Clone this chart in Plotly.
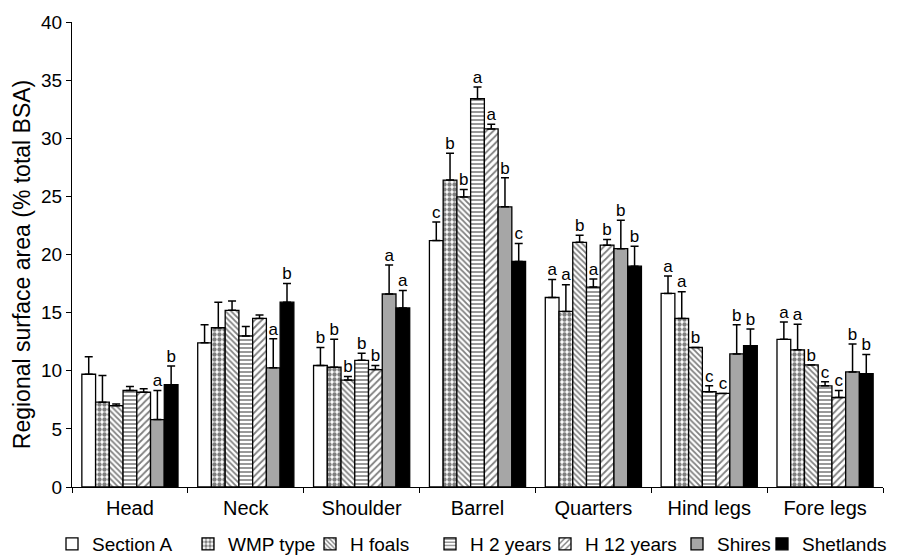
import plotly.graph_objects as go

categories = ["Head", "Neck", "Shoulder", "Barrel", "Quarters", "Hind legs", "Fore legs"]
series_names = ["Section A", "WMP type", "H foals", "H 2 years", "H 12 years", "Shires", "Shetlands"]
y_title = "Regional surface area (% total BSA)"

section_a = [9.7, 12.4, 10.45, 21.2, 16.3, 16.65, 12.7]
section_a_err = [1.5, 1.55, 1.55, 1.6, 1.55, 1.5, 1.5]
section_a_lbl = ["", "", "b", "c", "a", "a", "a"]

wmp_type = [7.3, 13.7, 10.3, 26.4, 15.1, 14.5, 11.8]
wmp_type_err = [2.3, 2.2, 2.4, 2.3, 2.3, 2.3, 2.2]
wmp_type_lbl = ["", "", "b", "b", "a", "a", "a"]

h_foals = [7.0, 15.2, 9.2, 24.95, 21.05, 12.0, 10.5]
h_foals_err = [0.15, 0.8, 0.3, 0.65, 0.6, 0.0, 0.0]
h_foals_lbl = ["", "", "b", "b", "b", "b", "b"]

h_2_years = [8.3, 13.0, 10.9, 33.4, 17.2, 8.2, 8.7]
h_2_years_err = [0.35, 0.8, 0.6, 1.0, 0.7, 0.5, 0.35]
h_2_years_lbl = ["", "", "b", "a", "a", "c", "c"]

h_12_years = [8.15, 14.5, 10.1, 30.8, 20.8, 8.05, 7.7]
h_12_years_err = [0.3, 0.3, 0.35, 0.4, 0.5, 0.0, 0.6]
h_12_years_lbl = ["", "", "b", "a", "b", "c", "c"]

shires = [5.8, 10.25, 16.6, 24.1, 20.5, 11.45, 9.9]
shires_err = [2.5, 2.5, 2.5, 2.5, 2.45, 2.5, 2.4]
shires_lbl = ["a", "a", "a", "b", "b", "b", "b"]

shetlands = [8.8, 15.9, 15.4, 19.4, 19.0, 12.15, 9.75]
shetlands_err = [1.6, 1.6, 1.5, 1.55, 1.7, 1.45, 1.65]
shetlands_lbl = ["b", "b", "a", "c", "b", "b", "b"]

values = [section_a, wmp_type, h_foals, h_2_years, h_12_years, shires, shetlands]
errors = [section_a_err, wmp_type_err, h_foals_err, h_2_years_err, h_12_years_err, shires_err, shetlands_err]
labels = [section_a_lbl, wmp_type_lbl, h_foals_lbl, h_2_years_lbl, h_12_years_lbl, shires_lbl, shetlands_lbl]

styles = [
    dict(color="white", pattern=dict(shape="")),
    dict(color="white", pattern=dict(shape=".", fgcolor="black", bgcolor="white", size=5, solidity=0.6)),
    dict(color="white", pattern=dict(shape="\\", fgcolor="black", bgcolor="white", size=4, solidity=0.45)),
    dict(color="white", pattern=dict(shape="-", fgcolor="black", bgcolor="white", size=4, solidity=0.4)),
    dict(color="white", pattern=dict(shape="/", fgcolor="black", bgcolor="white", size=5, solidity=0.35)),
    dict(color="#a6a6a6", pattern=dict(shape="")),
    dict(color="black", pattern=dict(shape="")),
]

# left edge (px, figure coords) of each legend entry box
legend_left_px = [44, 180, 302, 422, 537, 669, 754]

FONT = "Liberation Sans, Arial, Helvetica, sans-serif"
FIG_W, FIG_H = 889, 547
M_L, M_R, M_T, M_B = 64, 14, 14, 68

fig = go.Figure()
for i, name in enumerate(series_names):
    st = styles[i]
    fig.add_trace(go.Bar(
        name=name, x=categories, y=values[i],
        offsetgroup=str(i), alignmentgroup="g",
        legend="legend" if i == 0 else f"legend{i + 1}",
        marker=dict(color=st["color"], pattern=st["pattern"],
                    line=dict(color="black", width=1.3)),
        error_y=dict(type="data", array=errors[i], arrayminus=[0] * len(errors[i]),
                     symmetric=False, color="black", thickness=1.5, width=4),
    ))

for i, name in enumerate(series_names):
    tops = [v + e for v, e in zip(values[i], errors[i])]
    fig.add_trace(go.Scatter(
        x=categories, y=tops, mode="text", text=labels[i],
        textposition="top center", textfont=dict(size=17, color="black", family=FONT),
        offsetgroup=str(i), alignmentgroup="g",
        showlegend=False, hoverinfo="skip", cliponaxis=False,
    ))

legend_layouts = {}
for i, px in enumerate(legend_left_px):
    key = "legend" if i == 0 else f"legend{i + 1}"
    legend_layouts[key] = dict(orientation="h", xref="container", x=px / FIG_W, xanchor="left",
                               y=-0.1226, yanchor="middle", font=dict(size=19),
                               itemwidth=30, bgcolor="rgba(0,0,0,0)")

plot_w = FIG_W - M_L - M_R
fig.add_annotation(
    text=y_title, textangle=-90, xref="paper", yref="paper",
    x=(14 - M_L) / plot_w, y=0.477, xanchor="center", yanchor="middle",
    showarrow=False, font=dict(size=23, family=FONT, color="black"),
)

fig.update_layout(
    width=FIG_W, height=FIG_H,
    barmode="group", bargap=0.17, bargroupgap=0.0,
    scattermode="group", scattergap=0.17,
    plot_bgcolor="white", paper_bgcolor="white",
    font=dict(family=FONT, size=19, color="black"),
    margin=dict(l=M_L, r=M_R, t=M_T, b=M_B, autoexpand=False),
    showlegend=True,
    xaxis=dict(showline=True, linecolor="black", linewidth=1.2, ticks="outside",
               ticklen=5, tickcolor="black", tickson="boundaries", automargin=False,
               ticklabelstandoff=3, tickfont=dict(size=20), showgrid=False),
    yaxis=dict(range=[0, 40], dtick=5, showline=True, linecolor="black", linewidth=1.2,
               ticks="outside", ticklen=5, tickcolor="black", showgrid=False,
               zeroline=False, tickfont=dict(size=19), automargin=False),
    **legend_layouts,
)

fig.write_html("out.html")
